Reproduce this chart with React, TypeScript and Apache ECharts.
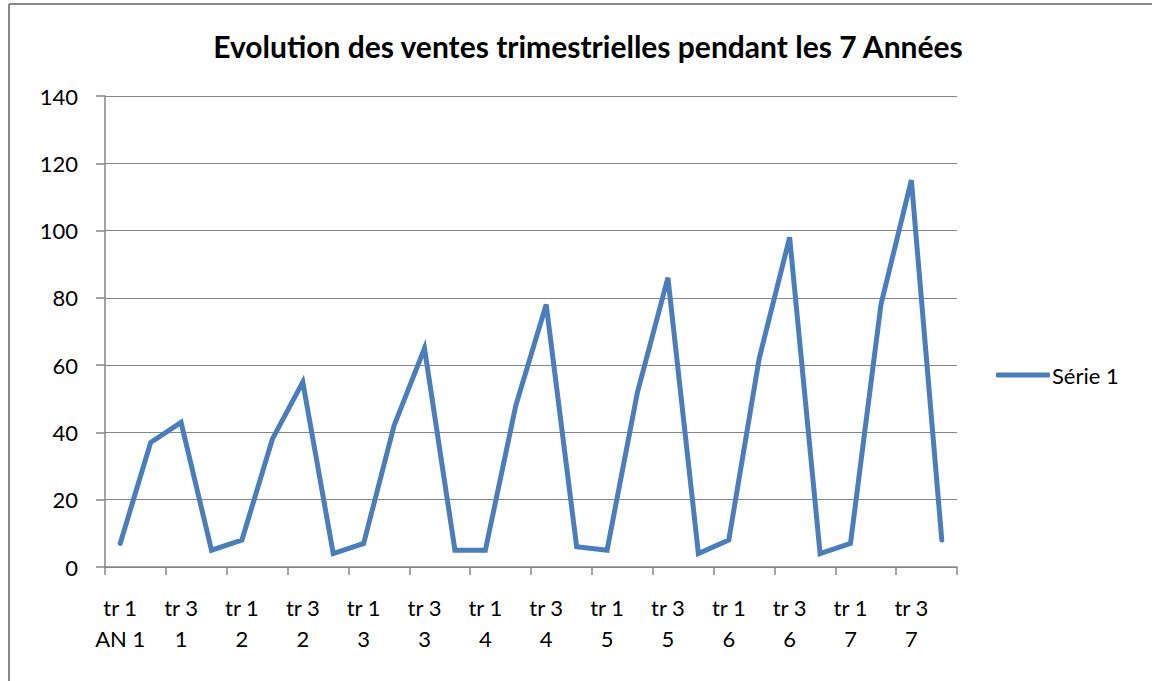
import React, { useEffect, useRef } from "react";
import * as echarts from "echarts";

const years = [1, 2, 3, 4, 5, 6, 7];
const quarters = [1, 2, 3, 4];
const categories: string[] = [];
years.forEach((y) =>
  quarters.forEach((q) => {
    categories.push(q === 1 && y === 1 ? "tr 1\nAN 1" : `tr ${q}\n${y}`);
  })
);
const serie1 = [
  7, 37, 43, 5,
  8, 38, 55, 4,
  7, 42, 65, 5,
  5, 48, 78, 6,
  5, 52, 86, 4,
  8, 62, 98, 4,
  7, 78, 115, 8,
];
const titleText = "Evolution des ventes trimestrielles pendant les 7 Années";
const seriesName = "Série 1";

const FONT = "Lato, 'Open Sans', sans-serif";

export default function App() {
  const ref = useRef<HTMLDivElement>(null);
  useEffect(() => {
    const chart = echarts.init(ref.current!, null, { renderer: "svg" });
    chart.setOption({
      animation: false,
      backgroundColor: "#fff",
      textStyle: { fontFamily: FONT, color: "#000" },
      title: {
        text: titleText,
        left: 583,
        textAlign: "center",
        top: 26,
        textStyle: { fontFamily: FONT, fontSize: 30, fontWeight: "bold", color: "#000" },
      },
      legend: {
        left: 996,
        top: 364,
        padding: 0,
        itemWidth: 54,
        itemHeight: 5,
        itemGap: 4,
        icon: "roundRect",
        data: [{ name: seriesName, itemStyle: { color: "#4A7EBB" } }],
        textStyle: { fontFamily: FONT, fontSize: 22, color: "#000", padding: [0, 0, 0, -3] },
      },
      grid: { left: 105, right: 195, top: 96, bottom: 114, containLabel: false },
      xAxis: {
        type: "category",
        data: categories,
        boundaryGap: true,
        axisLine: { lineStyle: { color: "#868686", width: 1.5 } },
        axisTick: { show: true, length: 8, lineStyle: { color: "#868686", width: 1.5 } },
        axisLabel: {
          interval: 1,
          margin: 25,
          fontFamily: FONT,
          fontSize: 22,
          lineHeight: 31,
          color: "#000",
        },
      },
      yAxis: {
        type: "value",
        min: 0,
        max: 140,
        interval: 20,
        axisLine: { show: true, lineStyle: { color: "#868686", width: 1.5 } },
        axisTick: { show: true, length: 9, lineStyle: { color: "#868686", width: 1.5 } },
        splitLine: { lineStyle: { color: "#868686", width: 1 } },
        axisLabel: { margin: 27, fontFamily: FONT, fontSize: 22, color: "#000" },
      },
      series: [
        {
          name: seriesName,
          type: "line",
          data: serie1,
          symbol: "none",
          lineStyle: { color: "#4A7EBB", width: 5, cap: "round", join: "miter" },
          itemStyle: { color: "#4A7EBB" },
        },
      ],
      graphic: [
        { type: "line", shape: { x1: 9, y1: 4, x2: 1152, y2: 4 }, style: { stroke: "#888", lineWidth: 2 } },
        { type: "line", shape: { x1: 9, y1: 4, x2: 9, y2: 681 }, style: { stroke: "#888", lineWidth: 2 } },
      ],
    });
    return () => chart.dispose();
  }, []);
  return (
    <div
      ref={ref}
      style={{ position: "fixed", left: 0, top: 0, width: 1152, height: 681 }}
    />
  );
}
